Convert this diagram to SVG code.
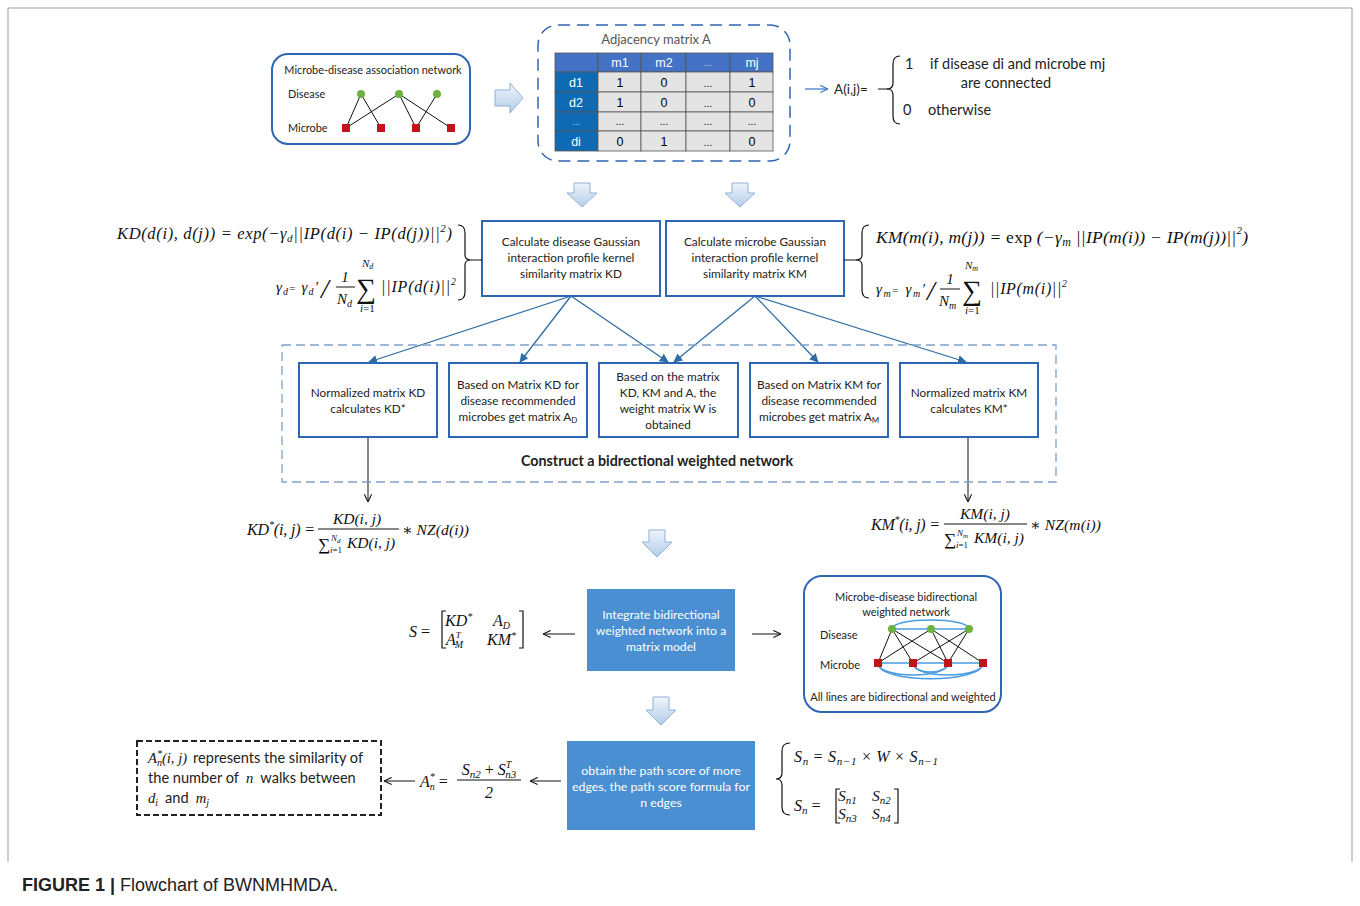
<svg xmlns="http://www.w3.org/2000/svg" width="1360" height="906" viewBox="0 0 1360 906">
<defs>
<style>
.t{font-family:Lato,"Liberation Sans",sans-serif;fill:#222}
.m{font-family:"Liberation Serif","DejaVu Serif",serif;font-style:italic;fill:#111}
.box{fill:#fff;stroke:#2f66b3;stroke-width:2}
.fbox{fill:#4a8fd1}
.wt{font-family:Lato,"Liberation Sans",sans-serif;fill:#fff}
.bl{stroke:#2e6da4;stroke-width:1.3;fill:none}
.k{stroke:#111;stroke-width:1;fill:none}
.brace{stroke:#111;stroke-width:1.2;fill:none}
.blk{fill:url(#g);stroke:#8fb0d6;stroke-width:1}
.cell{fill:#e4e4e4;stroke:#555;stroke-width:0.8}
.hd{fill:#4472c4;stroke:#555;stroke-width:0.8}
.rl{fill:#0e6bb3;stroke:#555;stroke-width:0.8}
.dn{fill:#6cb33f}
.mn{fill:#c0141b}
.arc{stroke:#4a9be0;stroke-width:1.5;fill:none}
</style>
<linearGradient id="g" x1="0" y1="0" x2="0" y2="1"><stop offset="0" stop-color="#eef4fb"/><stop offset="1" stop-color="#b3cde9"/></linearGradient>
<linearGradient id="gr" x1="0" y1="0" x2="1" y2="0"><stop offset="0" stop-color="#eef4fb"/><stop offset="1" stop-color="#b3cde9"/></linearGradient>
<marker id="ab" viewBox="0 0 10 10" refX="9" refY="5" markerWidth="9" markerHeight="9" orient="auto" markerUnits="userSpaceOnUse"><path d="M0,0 L10,5 L0,10 z" fill="#2e6da4"/></marker>
<marker id="ak" viewBox="0 0 10 10" refX="9.5" refY="5" markerWidth="9" markerHeight="9" orient="auto" markerUnits="userSpaceOnUse"><path d="M1,1 L9.5,5 L1,9" fill="none" stroke="#111" stroke-width="1.2"/></marker>
<marker id="abl" viewBox="0 0 10 10" refX="9.5" refY="5" markerWidth="9" markerHeight="9" orient="auto" markerUnits="userSpaceOnUse"><path d="M1,1 L9.5,5 L1,9" fill="none" stroke="#2e75c8" stroke-width="1.2"/></marker>
</defs>
<rect width="1360" height="906" fill="#fff"/>
<path d="M8,862 V8 H1352 V862" fill="none" stroke="#999" stroke-width="1"/>

<!-- connectors -->
<g id="connectors">
<line class="bl" x1="571" y1="296" x2="369" y2="362" marker-end="url(#ab)"/>
<line class="bl" x1="571" y1="296" x2="520" y2="362" marker-end="url(#ab)"/>
<line class="bl" x1="571" y1="296" x2="668" y2="362" marker-end="url(#ab)"/>
<line class="bl" x1="755" y1="296" x2="674" y2="362" marker-end="url(#ab)"/>
<line class="bl" x1="755" y1="296" x2="818" y2="362" marker-end="url(#ab)"/>
<line class="bl" x1="755" y1="296" x2="966" y2="362" marker-end="url(#ab)"/>
<line class="k" x1="368" y1="437" x2="368" y2="502" marker-end="url(#ak)"/>
<line class="k" x1="968" y1="437" x2="968" y2="502" marker-end="url(#ak)"/>
<line class="k" x1="575" y1="634" x2="543" y2="634" marker-end="url(#ak)"/>
<line class="k" x1="752" y1="634" x2="781" y2="634" marker-end="url(#ak)"/>
<line class="k" x1="561" y1="781" x2="530" y2="781" marker-end="url(#ak)"/>
<line class="k" x1="415" y1="781" x2="384" y2="781" marker-end="url(#ak)"/>
<line x1="805" y1="89" x2="828" y2="89" stroke="#2e75c8" stroke-width="1.2" marker-end="url(#abl)"/>
<path class="blk" d="M495,90 H510 V83 L523,98 L510,113 V106 H495 Z" fill="url(#gr)"/>
<path class="blk" d="M574,183 H590 V193 H597 L582,207 L567,193 H574 Z"/>
<path class="blk" d="M732,183 H748 V193 H755 L740,207 L725,193 H732 Z"/>
<path class="blk" d="M649,530 H665 V542 H672 L657,557 L642,542 H649 Z"/>
<path class="blk" d="M653,697 H669 V710 H676 L661,725 L646,710 H653 Z"/>
</g>

<!-- Microbe-disease association network -->
<g id="assoc-net">
<rect x="272" y="54" width="198" height="90" rx="16" fill="#fff" stroke="#2f66b3" stroke-width="2"/>
<text class="t" x="373" y="74" font-size="10.9" text-anchor="middle">Microbe-disease association network</text>
<text class="t" x="288" y="98" font-size="10.9">Disease</text>
<text class="t" x="288" y="132" font-size="10.9">Microbe</text>
<g stroke="#111" stroke-width="1">
<line x1="361" y1="94" x2="346" y2="128"/><line x1="361" y1="94" x2="381" y2="128"/>
<line x1="399" y1="94" x2="346" y2="128"/><line x1="399" y1="94" x2="416" y2="128"/>
<line x1="399" y1="94" x2="451" y2="128"/><line x1="437" y1="94" x2="416" y2="128"/>
</g>
<circle class="dn" cx="361" cy="94" r="4"/><circle class="dn" cx="399" cy="94" r="4"/><circle class="dn" cx="437" cy="94" r="4"/>
<rect class="mn" x="342" y="124" width="8" height="8"/><rect class="mn" x="377" y="124" width="8" height="8"/><rect class="mn" x="412" y="124" width="8" height="8"/><rect class="mn" x="447" y="124" width="8" height="8"/>
</g>

<!-- Adjacency matrix -->
<g id="adjacency">
<rect x="538" y="25" width="252" height="136" rx="20" fill="none" stroke="#2f66b3" stroke-width="1.5" stroke-dasharray="12,7"/>
<text class="t" x="656" y="44" font-size="13" text-anchor="middle" style="fill:#555">Adjacency matrix A</text>
<rect class="hd" x="555" y="53" width="43" height="19"/>
<rect class="hd" x="598" y="53" width="43" height="19"/>
<rect class="hd" x="641" y="53" width="45" height="19"/>
<rect class="hd" x="686" y="53" width="44" height="19"/>
<rect class="hd" x="730" y="53" width="43" height="19"/>
<rect class="rl" x="555" y="72" width="43" height="20"/>
<rect class="rl" x="555" y="92" width="43" height="20"/>
<rect class="rl" x="555" y="112" width="43" height="19"/>
<rect class="rl" x="555" y="131" width="43" height="20"/>
<rect class="cell" x="598" y="72" width="43" height="20"/><rect class="cell" x="641" y="72" width="45" height="20"/><rect class="cell" x="686" y="72" width="44" height="20"/><rect class="cell" x="730" y="72" width="43" height="20"/>
<rect class="cell" x="598" y="92" width="43" height="20"/><rect class="cell" x="641" y="92" width="45" height="20"/><rect class="cell" x="686" y="92" width="44" height="20"/><rect class="cell" x="730" y="92" width="43" height="20"/>
<rect class="cell" x="598" y="112" width="43" height="19"/><rect class="cell" x="641" y="112" width="45" height="19"/><rect class="cell" x="686" y="112" width="44" height="19"/><rect class="cell" x="730" y="112" width="43" height="19"/>
<rect class="cell" x="598" y="131" width="43" height="20"/><rect class="cell" x="641" y="131" width="45" height="20"/><rect class="cell" x="686" y="131" width="44" height="20"/><rect class="cell" x="730" y="131" width="43" height="20"/>
<g font-family="Liberation Sans, sans-serif" font-size="12.5" text-anchor="middle">
<text x="620" y="67" fill="#fff">m1</text><text x="664" y="67" fill="#fff">m2</text><text x="708" y="66" fill="#dfe6f3" font-size="9">...</text><text x="752" y="67" fill="#fff">mj</text>
<text x="576" y="87" fill="#fff">d1</text><text x="576" y="107" fill="#fff">d2</text><text x="576" y="125" fill="#cfe0f1" font-size="9">...</text><text x="576" y="146" fill="#fff">di</text>
<text x="620" y="87">1</text><text x="664" y="87">0</text><text x="708" y="87" font-size="10">...</text><text x="752" y="87">1</text>
<text x="620" y="107">1</text><text x="664" y="107">0</text><text x="708" y="107" font-size="10">...</text><text x="752" y="107">0</text>
<text x="620" y="125" font-size="10">...</text><text x="664" y="125" font-size="10">...</text><text x="708" y="125" font-size="10">...</text><text x="752" y="125" font-size="10">...</text>
<text x="620" y="146">0</text><text x="664" y="146">1</text><text x="708" y="146" font-size="10">...</text><text x="752" y="146">0</text>
</g>
</g>

<!-- A(i,j) definition -->
<g id="aij">
<text class="t" x="834" y="94" font-size="13.5">A(i,j)=</text>
<line class="k" x1="878" y1="89" x2="888" y2="89"/>
<path class="brace" d="M900,56 Q893,56 893,64 V83 Q893,89 887,89 Q893,89 893,95 V116 Q893,124 900,124"/>
<text class="t" x="905" y="69" font-size="14.5">1</text>
<text class="t" x="930" y="69" font-size="14.5">if disease di and microbe mj</text>
<text class="t" x="1006" y="88" font-size="14.5" text-anchor="middle">are connected</text>
<text class="t" x="903" y="115" font-size="14.5">0</text>
<text class="t" x="928" y="115" font-size="14.5">otherwise</text>
</g>

<!-- KD box and formula -->
<g id="kd-box">
<rect class="box" x="482" y="221" width="178" height="75"/>
<text class="t" x="571" y="246" font-size="11.8" text-anchor="middle">Calculate disease Gaussian</text>
<text class="t" x="571" y="262" font-size="11.8" text-anchor="middle">interaction profile kernel</text>
<text class="t" x="571" y="278" font-size="11.8" text-anchor="middle">similarity matrix KD</text>
</g>
<g id="kd-formula">
<text class="m" x="117" y="239" font-size="16.5" textLength="335">KD(d(i), d(j)) = exp(−γ<tspan font-size="11" dy="3">d</tspan><tspan dy="-3">||IP(d(i) − IP(d(j))||</tspan><tspan font-size="11" dy="-7">2</tspan><tspan dy="7">)</tspan></text>
<text class="m" x="276" y="292" font-size="15" textLength="42">γ<tspan font-size="10" dy="3">d</tspan><tspan dy="-3" font-size="11" font-style="normal">=</tspan> γ<tspan font-size="10" dy="3">d</tspan><tspan dy="-3">′</tspan></text>
<text class="m" x="321" y="298" font-size="28" font-style="normal">/</text>
<text class="m" x="345" y="282" font-size="15" text-anchor="middle" font-style="normal">1</text>
<line x1="336" y1="287" x2="355" y2="287" stroke="#111" stroke-width="1"/>
<text class="m" x="337" y="304" font-size="15">N<tspan font-size="10" dy="3">d</tspan></text>
<text class="m" x="356" y="298" font-size="28" font-style="normal">∑</text>
<text class="m" x="362" y="267" font-size="11">N<tspan font-size="8" dy="2">d</tspan></text>
<text class="m" x="360" y="312" font-size="11">i<tspan font-style="normal">=1</tspan></text>
<text class="m" x="381" y="292" font-size="16" textLength="75">||IP(d(i)||<tspan font-size="10" dy="-7">2</tspan></text>
<path class="brace" d="M458,225 Q465,225 465,233 V255 Q465,260 471,260 Q465,260 465,265 V292 Q465,300 458,300"/>
<line class="k" x1="471" y1="260" x2="482" y2="260"/>
</g>

<!-- KM box and formula -->
<g id="km-box">
<rect class="box" x="666" y="221" width="178" height="75"/>
<text class="t" x="755" y="246" font-size="11.8" text-anchor="middle">Calculate microbe Gaussian</text>
<text class="t" x="755" y="262" font-size="11.8" text-anchor="middle">interaction profile kernel</text>
<text class="t" x="755" y="278" font-size="11.8" text-anchor="middle">similarity matrix KM</text>
</g>
<g id="km-formula">
<line class="k" x1="844" y1="260" x2="857" y2="260"/>
<path class="brace" d="M869,225 Q862,225 862,233 V255 Q862,260 856,260 Q862,260 862,265 V290 Q862,298 869,298"/>
<text class="m" x="876" y="243" font-size="17.5" textLength="372">KM(m(i), m(j)) = <tspan font-style="normal">exp</tspan> (−γ<tspan font-size="12" dy="3">m</tspan><tspan dy="-3"> ||IP(m(i)) − IP(m(j))||</tspan><tspan font-size="11" dy="-9">2</tspan><tspan dy="9">)</tspan></text>
<text class="m" x="876" y="294" font-size="15" textLength="49">γ<tspan font-size="10" dy="3">m</tspan><tspan dy="-3" font-size="11" font-style="normal">=</tspan> γ<tspan font-size="10" dy="3">m</tspan><tspan dy="-3">′</tspan></text>
<text class="m" x="927" y="300" font-size="28" font-style="normal">/</text>
<text class="m" x="950" y="284" font-size="15" text-anchor="middle" font-style="normal">1</text>
<line x1="940" y1="289" x2="960" y2="289" stroke="#111" stroke-width="1"/>
<text class="m" x="939" y="306" font-size="15">N<tspan font-size="10" dy="3">m</tspan></text>
<text class="m" x="962" y="300" font-size="28" font-style="normal">∑</text>
<text class="m" x="965" y="269" font-size="11">N<tspan font-size="8" dy="2">m</tspan></text>
<text class="m" x="965" y="314" font-size="11">i<tspan font-style="normal">=1</tspan></text>
<text class="m" x="990" y="294" font-size="16" textLength="77">||IP(m(i)||<tspan font-size="10" dy="-7">2</tspan></text>
</g>

<!-- construct network container -->
<g id="construct">
<rect x="282" y="345" width="774" height="137" fill="none" stroke="#7fa3cc" stroke-width="1.3" stroke-dasharray="9,5"/>
<text class="t" x="657" y="466" font-size="14.3" font-weight="bold" text-anchor="middle">Construct a bidrectional weighted  network</text>
</g>
<g id="norm-kd">
<rect class="box" x="299" y="363" width="138" height="74"/>
<text class="t" x="368" y="397" font-size="11.8" text-anchor="middle">Normalized matrix KD</text>
<text class="t" x="368" y="413" font-size="11.8" text-anchor="middle">calculates KD*</text>
</g>
<g id="ad-box">
<rect class="box" x="449" y="363" width="138" height="74"/>
<text class="t" x="518" y="389" font-size="11.8" text-anchor="middle">Based on Matrix KD for</text>
<text class="t" x="518" y="405" font-size="11.8" text-anchor="middle">disease recommended</text>
<text class="t" x="518" y="421" font-size="11.8" text-anchor="middle">microbes get matrix A<tspan font-size="8" dy="2">D</tspan></text>
</g>
<g id="w-box">
<rect class="box" x="599" y="363" width="139" height="74"/>
<text class="t" x="668" y="381" font-size="11.8" text-anchor="middle">Based on the matrix</text>
<text class="t" x="668" y="397" font-size="11.8" text-anchor="middle">KD, KM and  A, the</text>
<text class="t" x="668" y="413" font-size="11.8" text-anchor="middle">weight matrix W is</text>
<text class="t" x="668" y="429" font-size="11.8" text-anchor="middle">obtained</text>
</g>
<g id="am-box">
<rect class="box" x="750" y="363" width="138" height="74"/>
<text class="t" x="819" y="389" font-size="11.8" text-anchor="middle">Based on Matrix KM for</text>
<text class="t" x="819" y="405" font-size="11.8" text-anchor="middle">disease recommended</text>
<text class="t" x="819" y="421" font-size="11.8" text-anchor="middle">microbes get matrix A<tspan font-size="8" dy="2">M</tspan></text>
</g>
<g id="norm-km">
<rect class="box" x="900" y="363" width="138" height="74"/>
<text class="t" x="969" y="397" font-size="11.8" text-anchor="middle">Normalized matrix KM</text>
<text class="t" x="969" y="413" font-size="11.8" text-anchor="middle">calculates KM*</text>
</g>

<!-- KD* formula -->
<g id="kdstar">
<text class="m" x="247" y="535" font-size="16" textLength="68">KD<tspan font-size="10" dy="-7">*</tspan><tspan dy="7">(i, j) =</tspan></text>
<text class="m" x="357" y="524" font-size="15.5" text-anchor="middle">KD(i, j)</text>
<line x1="318" y1="529" x2="399" y2="529" stroke="#111" stroke-width="1"/>
<text x="318" y="550" font-family="Liberation Serif, serif" font-size="17">∑</text>
<text class="m" x="331" y="541" font-size="9">N<tspan font-size="7" dy="2">d</tspan></text>
<text class="m" x="330" y="553" font-size="9">i<tspan font-style="normal">=1</tspan></text>
<text class="m" x="347" y="548" font-size="15.5">KD(i, j)</text>
<text class="m" x="402" y="535" font-size="15.5" textLength="67">∗ NZ(d(i))</text>
</g>
<!-- KM* formula -->
<g id="kmstar">
<text class="m" x="871" y="530" font-size="16" textLength="69">KM<tspan font-size="10" dy="-7">*</tspan><tspan dy="7">(i, j) =</tspan></text>
<text class="m" x="985" y="519" font-size="15.5" text-anchor="middle">KM(i, j)</text>
<line x1="944" y1="524" x2="1027" y2="524" stroke="#111" stroke-width="1"/>
<text x="944" y="545" font-family="Liberation Serif, serif" font-size="17">∑</text>
<text class="m" x="957" y="536" font-size="9">N<tspan font-size="7" dy="2">m</tspan></text>
<text class="m" x="956" y="548" font-size="9">i<tspan font-style="normal">=1</tspan></text>
<text class="m" x="974" y="543" font-size="15.5">KM(i, j)</text>
<text class="m" x="1030" y="530" font-size="15.5" textLength="71">∗ NZ(m(i))</text>
</g>

<!-- integrate box -->
<g id="integrate">
<rect class="fbox" x="587" y="589" width="148" height="82"/>
<text class="wt" x="661" y="619" font-size="12.2" text-anchor="middle">Integrate bidirectional</text>
<text class="wt" x="661" y="635" font-size="12.2" text-anchor="middle">weighted network into a</text>
<text class="wt" x="661" y="651" font-size="12.2" text-anchor="middle">matrix model</text>
</g>
<!-- S matrix -->
<g id="s-matrix">
<text class="m" x="409" y="637" font-size="16">S <tspan font-style="normal">=</tspan></text>
<path class="brace" d="M446,611 H442 V648 H446"/>
<path class="brace" d="M519,611 H523 V648 H519"/>
<text class="m" x="445" y="626" font-size="16">KD<tspan font-size="10" dy="-6">*</tspan></text>
<text class="m" x="493" y="626" font-size="16">A<tspan font-size="10" dy="3">D</tspan></text>
<text class="m" x="446" y="645" font-size="16">A<tspan font-size="9" dy="-7">T</tspan><tspan font-size="10" dx="-6" dy="10">M</tspan></text>
<text class="m" x="487" y="645" font-size="16">KM<tspan font-size="10" dy="-6">*</tspan></text>
</g>
<!-- bidirectional network -->
<g id="bi-net">
<rect x="804" y="576" width="197" height="136" rx="18" fill="#fff" stroke="#2f66b3" stroke-width="2"/>
<text class="t" x="906" y="601" font-size="11" text-anchor="middle">Microbe-disease bidirectional</text>
<text class="t" x="906" y="616" font-size="11" text-anchor="middle">weighted network</text>
<text class="t" x="820" y="639" font-size="11">Disease</text>
<text class="t" x="820" y="669" font-size="11">Microbe</text>
<text class="t" x="903" y="701" font-size="11" text-anchor="middle">All lines are bidirectional and weighted</text>
<path class="arc" d="M892,629 C892,617 969,617 969,629"/>
<line class="arc" x1="892" y1="629" x2="969" y2="629"/>
<line class="arc" x1="878" y1="663" x2="983" y2="663"/>
<path class="arc" d="M878,663 C878,684 983,684 983,663"/>
<path class="arc" d="M878,663 C878,679 948,679 948,663"/>
<path class="arc" d="M913,663 C913,679 983,679 983,663"/>
<path class="arc" d="M913,663 C913,675 948,675 948,663"/>
<g stroke="#111" stroke-width="1">
<line x1="892" y1="629" x2="878" y2="663"/><line x1="892" y1="629" x2="913" y2="663"/><line x1="892" y1="629" x2="948" y2="663"/>
<line x1="931" y1="629" x2="878" y2="663"/><line x1="931" y1="629" x2="948" y2="663"/><line x1="931" y1="629" x2="983" y2="663"/>
<line x1="969" y1="629" x2="948" y2="663"/><line x1="969" y1="629" x2="913" y2="663"/>
</g>
<circle class="dn" cx="892" cy="629" r="4"/><circle class="dn" cx="931" cy="629" r="4"/><circle class="dn" cx="969" cy="629" r="4"/>
<rect class="mn" x="874" y="659" width="8" height="8"/><rect class="mn" x="909" y="659" width="8" height="8"/><rect class="mn" x="944" y="659" width="8" height="8"/><rect class="mn" x="979" y="659" width="8" height="8"/>
</g>

<!-- obtain path score box -->
<g id="path-score">
<rect class="fbox" x="567" y="741" width="188" height="89"/>
<text class="wt" x="661" y="775" font-size="12.3" text-anchor="middle">obtain the path score of more</text>
<text class="wt" x="661" y="791" font-size="12.3" text-anchor="middle">edges, the path score formula for</text>
<text class="wt" x="661" y="807" font-size="12.3" text-anchor="middle">n edges</text>
</g>
<!-- Sn formulas -->
<g id="sn">
<path class="brace" d="M790,743 Q782,743 782,751 V773 Q782,779 776,779 Q782,779 782,785 V807 Q782,815 790,815"/>
<text class="m" x="794" y="762" font-size="16" textLength="144">S<tspan font-size="11" dy="3">n</tspan><tspan dy="-3" font-style="normal"> = </tspan>S<tspan font-size="11" dy="3">n−1</tspan><tspan dy="-3" font-style="normal"> × </tspan>W<tspan font-style="normal"> × </tspan>S<tspan font-size="11" dy="3">n−1</tspan></text>
<text class="m" x="794" y="811" font-size="16">S<tspan font-size="11" dy="3">n</tspan><tspan dy="-3" font-style="normal"> =</tspan></text>
<path class="brace" d="M840,789 H836 V823 H840"/>
<path class="brace" d="M894,789 H898 V823 H894"/>
<text class="m" x="838" y="801" font-size="15.5">S<tspan font-size="11" dy="3">n1</tspan></text>
<text class="m" x="872" y="801" font-size="15.5">S<tspan font-size="11" dy="3">n2</tspan></text>
<text class="m" x="838" y="819" font-size="15.5">S<tspan font-size="11" dy="3">n3</tspan></text>
<text class="m" x="872" y="819" font-size="15.5">S<tspan font-size="11" dy="3">n4</tspan></text>
</g>
<!-- An formula -->
<g id="an">
<text class="m" x="420" y="787" font-size="16">A<tspan font-size="10" dy="-7">*</tspan><tspan font-size="10" dx="-5" dy="10">n</tspan><tspan dy="-3" font-style="normal"> =</tspan></text>
<text class="m" x="489" y="775" font-size="16" text-anchor="middle">S<tspan font-size="11" dy="3">n2</tspan><tspan dy="-3" font-style="normal"> + </tspan>S<tspan font-size="10" dy="-7">T</tspan><tspan font-size="11" dx="-6" dy="10">n3</tspan></text>
<line x1="457" y1="780" x2="521" y2="780" stroke="#111" stroke-width="1"/>
<text class="m" x="489" y="798" font-size="16" text-anchor="middle" font-style="normal">2</text>
</g>
<!-- An explanation dashed box -->
<g id="an-note">
<rect x="137" y="741" width="244" height="74" fill="none" stroke="#222" stroke-width="2" stroke-dasharray="6,3"/>
<text x="148" y="763" font-size="14.6"><tspan class="m">A</tspan><tspan class="m" font-size="10" dy="-6">*</tspan><tspan class="m" font-size="10" dx="-5" dy="9">n</tspan><tspan class="m" dy="-3">(i, j)</tspan><tspan class="t" dx="6">represents the similarity of</tspan></text>
<text x="148" y="783" font-size="14.6"><tspan class="t">the number of</tspan><tspan class="m" dx="7">n</tspan><tspan class="t" dx="7">walks between</tspan></text>
<text x="148" y="803" font-size="14.6"><tspan class="m">d</tspan><tspan class="m" font-size="10" dy="3">i</tspan><tspan class="t" dx="7" dy="-3">and</tspan><tspan class="m" dx="7">m</tspan><tspan class="m" font-size="10" dy="3">j</tspan></text>
</g>

<text x="22" y="891" font-family="Liberation Sans, Arial, sans-serif" font-size="18" fill="#222"><tspan font-weight="bold">FIGURE 1 |</tspan> Flowchart of BWNMHMDA.</text>
</svg>
